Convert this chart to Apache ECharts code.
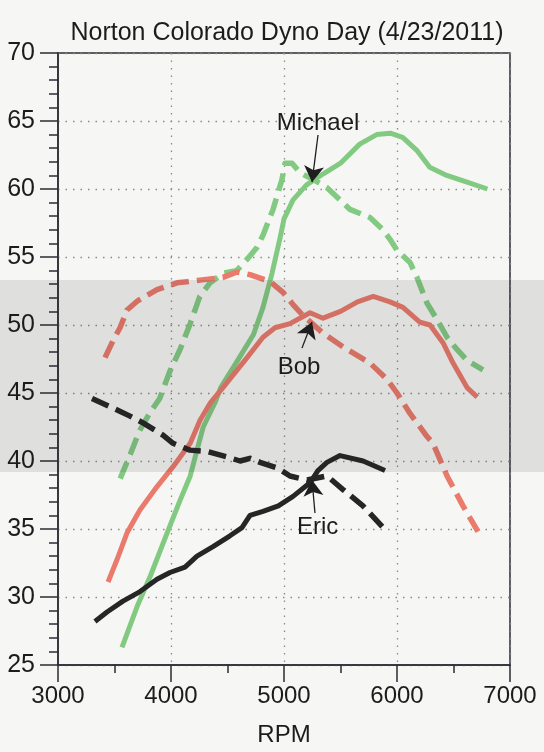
<!DOCTYPE html>
<html>
<head>
<meta charset="utf-8">
<script src="https://cdn.jsdelivr.net/npm/echarts@6/dist/echarts.min.js"></script>
<style>
html,body{margin:0;padding:0;background:#f6f6f5;}
#chart{width:544px;height:752px;}
</style>
</head>
<body>
<div id="chart"></div>
<script>
// ---- data (RPM, value) ----
var titleText = 'Norton Colorado Dyno Day (4/23/2011)';
var xAxisName = 'RPM';

var michaelSolid = [[3566,26.3],[3700,29.3],[3820,31.6],[3965,34.7],[4080,37.1],[4170,38.9],[4230,40.8],[4285,42.5],[4390,44.3],[4440,45.4],[4590,47.4],[4730,49.3],[4814,51.3],[4894,53.8],[4965,56.4],[5000,57.8],[5080,59.2],[5200,60.3],[5345,61.1],[5500,61.9],[5670,63.3],[5820,64.0],[5940,64.1],[6050,63.8],[6180,62.8],[6290,61.6],[6440,61.0],[6620,60.5],[6800,60.0]];
var michaelDashed = [[3550,38.7],[3640,40.5],[3720,42.2],[3810,43.5],[3900,44.6],[3990,46.6],[4080,48.2],[4170,50.1],[4255,52.1],[4345,53.1],[4460,53.8],[4580,54.0],[4670,54.8],[4760,55.7],[4814,56.6],[4903,58.5],[4982,60.7],[5009,61.9],[5071,61.9],[5142,61.2],[5257,60.7],[5381,60.1],[5584,58.5],[5761,57.9],[5876,57.0],[5938,56.3],[6000,55.5],[6115,54.6],[6177,53.5],[6266,51.6],[6354,50.4],[6443,49.1],[6531,48.2],[6620,47.4],[6761,46.7]];
var bobSolid = [[3443,31.1],[3520,32.7],[3610,34.7],[3725,36.4],[3875,38.1],[4020,39.6],[4170,41.3],[4257,43.0],[4350,44.3],[4460,45.4],[4673,47.6],[4814,49.1],[4920,49.8],[5053,50.1],[5230,50.9],[5345,50.5],[5500,51.0],[5650,51.7],[5790,52.1],[5938,51.7],[6053,51.3],[6204,50.2],[6292,50.0],[6407,48.7],[6496,47.2],[6620,45.4],[6710,44.7]];
var bobDashed = [[3416,47.6],[3490,48.9],[3549,49.8],[3611,51.1],[3708,51.8],[3876,52.6],[4053,53.1],[4257,53.3],[4460,53.5],[4584,53.9],[4699,53.7],[4876,53.2],[4991,52.4],[5080,51.5],[5168,50.7],[5345,49.4],[5522,48.4],[5761,47.2],[5912,46.0],[6000,45.0],[6115,43.5],[6266,41.8],[6319,41.3],[6443,38.9],[6584,36.7],[6717,34.8]];
var ericSolid = [[3327,28.2],[3434,28.9],[3575,29.7],[3726,30.4],[3876,31.3],[3991,31.8],[4124,32.2],[4230,33.0],[4372,33.7],[4522,34.5],[4628,35.1],[4699,36.0],[4814,36.3],[4950,36.7],[5080,37.4],[5230,38.4],[5300,39.3],[5380,39.9],[5496,40.4],[5700,40.0],[5894,39.3]];
var ericDashed = [[3301,44.6],[3460,44.0],[3637,43.3],[3752,42.8],[3929,41.9],[4018,41.3],[4168,40.8],[4319,40.7],[4496,40.3],[4611,40.0],[4699,40.2],[4788,39.9],[4938,39.5],[5053,38.9],[5204,38.6],[5381,38.9],[5522,37.9],[5699,36.7],[5912,34.8]];

// annotation labels: name, text position, arrow tail, arrow tip
var annoNames = ['Michael','Bob','Eric'];
var annoText  = [[5301,64.85],[5133,46.9],[5297,35.15]];
var annoTail  = [[5301,63.97],[5159,48.3],[5274,36.18]];
var annoTip   = [[5248,60.5],[5248,50.22],[5248,38.6]];

var xTicks = {min:3000, max:7000, interval:1000};
var yTicks = {min:25, max:70, interval:5};

// ---- styles ----
var FONT = '"Liberation Sans", Arial, Helvetica, sans-serif';
var GREEN = '#82ca82', RED = '#ea7a6b', BLACK = '#262626';
var AX = '#2b2b33';
var TXT = '#1c1c1c';
var DASH = [18, 8];

function lineSeries(name, data, color, dashed) {
  return {
    name: name, type: 'line', data: data, showSymbol: false, symbol: 'none',
    smooth: false, animation: false,
    lineStyle: {color: color, width: dashed ? 5.5 : 5, type: dashed ? DASH : 'solid', cap: 'butt', join: 'round'},
    z: 3
  };
}

var chart = echarts.init(document.getElementById('chart'), null, {renderer: 'canvas'});

var markLineData = annoNames.map(function (n, i) {
  return [{coord: annoTail[i]}, {coord: annoTip[i]}];
});
var textData = annoNames.map(function (n, i) {
  return {name: n, value: annoText[i]};
});

var option = {
  backgroundColor: '#f6f6f5',
  animation: false,
  title: {
    text: titleText, left: 282, top: 16, textAlign: 'center',
    textStyle: {fontFamily: FONT, fontSize: 25, fontWeight: 'normal', color: TXT}
  },
  grid: {left: 58, right: 34, top: 53, bottom: 87, show: true, borderColor: AX, borderWidth: 1.5, backgroundColor: 'transparent'},
  xAxis: {
    type: 'value', min: xTicks.min, max: xTicks.max, interval: xTicks.interval,
    name: xAxisName, nameLocation: 'middle', nameGap: 58,
    nameTextStyle: {fontFamily: FONT, fontSize: 24, color: TXT},
    axisLine: {show: true, lineStyle: {color: AX, width: 1.5}},
    axisTick: {show: true, length: 17, lineStyle: {color: AX, width: 1.5}},
    minorTick: {show: true, splitNumber: 2, length: 8, lineStyle: {color: AX, width: 1.5}},
    splitLine: {show: true, lineStyle: {color: '#8a8a8a', width: 1.3, type: [1.5, 6]}},
    axisLabel: {fontFamily: FONT, fontSize: 24, color: TXT, margin: 19,
      formatter: function (v) { return String(v); }}
  },
  yAxis: {
    type: 'value', min: yTicks.min, max: yTicks.max, interval: yTicks.interval,
    axisLine: {show: true, lineStyle: {color: AX, width: 1.5}},
    axisTick: {show: true, length: 18, lineStyle: {color: AX, width: 1.5}},
    minorTick: {show: true, splitNumber: 5, length: 9, lineStyle: {color: AX, width: 1.5}},
    splitLine: {show: true, lineStyle: {color: '#8a8a8a', width: 1.3, type: [1.5, 6]}},
    axisLabel: {fontFamily: FONT, fontSize: 25, color: TXT, margin: 23}
  },
  series: [
    lineSeries('Michael torque', michaelDashed, GREEN, true),
    lineSeries('Michael hp', michaelSolid, GREEN, false),
    lineSeries('Bob torque', bobDashed, RED, true),
    lineSeries('Bob hp', bobSolid, RED, false),
    lineSeries('Eric torque', ericDashed, BLACK, true),
    lineSeries('Eric hp', ericSolid, BLACK, false),
    {
      name: 'labels', type: 'scatter', data: textData, symbolSize: 0, animation: false, z: 6,
      itemStyle: {opacity: 1},
      label: {show: true, position: 'inside', formatter: '{b}', fontFamily: FONT, fontSize: 24, color: TXT, opacity: 1},
      markLine: {
        silent: true, animation: false, symbol: ['none', 'arrow'], symbolSize: [15, 16],
        label: {show: false},
        lineStyle: {color: '#1e1e1e', width: 1.3, type: 'solid', opacity: 1},
        data: markLineData
      }
    }
  ],
  graphic: [{
    type: 'rect', silent: true, z: 100,
    shape: {x: 0, y: 280, width: 544, height: 192},
    style: {fill: 'rgba(40,40,40,0.11)'}
  }]
};
chart.setOption(option);
</script>
</body>
</html>
